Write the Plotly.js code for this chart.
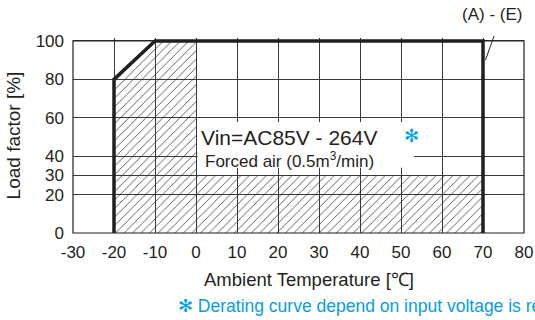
<!DOCTYPE html>
<html><head><meta charset="utf-8">
<script src="https://cdn.plot.ly/plotly-3.0.1.min.js"></script>
<style>html,body{margin:0;padding:0;background:#fff;overflow:hidden}</style>
</head><body><div id="chart" style="width:535px;height:320px"></div>
<script>
// Derating region (hatched area) and derating curve
const areaX = [-20, -20, -10, 0, 0, 70, 70, -20];
const areaY = [0, 80, 100, 100, 30, 30, 0, 0];
const curveX = [-20, -20, -10, 70, 70];
const curveY = [0, 80, 100, 100, 0];
const xTicks = [-30, -20, -10, 0, 10, 20, 30, 40, 50, 60, 70, 80];
const xTickText = ['-30', '-20', '-10', '0', '10', '20', '30', '40', '50', '60', '70', '80'];
const yTicks = [0, 20, 30, 40, 60, 80, 100];
const xTitle = 'Ambient Temperature [℃]';
const yTitle = 'Load factor [%]';
const condText = 'Vin=AC85V - 264V';
const airText = 'Forced air (0.5m<sup>3</sup>/min)';
const curveLabel = '(A) - (E)';
const noteText = '✻ Derating curve depend on input voltage is re';

const ink = '#231f20';
const blue = '#00a0e9';
const FONT = '"Liberation Sans", Arial, sans-serif';

const traces = [
  {x: areaX, y: areaY, type: 'scatter', mode: 'lines', fill: 'toself',
   line: {width: 0, color: ink}, fillcolor: 'rgba(0,0,0,0)',
   fillpattern: {shape: '/', size: 6, solidity: 0.13, fgcolor: '#333', fillmode: 'replace'},
   hoverinfo: 'skip', showlegend: false},
  {x: curveX, y: curveY, type: 'scatter', mode: 'lines',
   line: {width: 3.5, color: ink}, hoverinfo: 'skip', showlegend: false}
];

const layout = {
  width: 535, height: 320,
  margin: {l: 73, r: 11, t: 38, b: 87},
  paper_bgcolor: '#fff', plot_bgcolor: '#fff',
  font: {family: FONT, color: ink, size: 17},
  showlegend: false,
  xaxis: {range: [-30, 80], tickvals: xTicks, ticktext: xTickText, ticks: '', showline: false, zeroline: false,
          showgrid: true, gridcolor: '#3a3a3a', gridwidth: 1,
          tickfont: {size: 17, color: ink}, ticklabelstandoff: 7, fixedrange: true},
  yaxis: {range: [0, 101.5], tickvals: yTicks, ticks: '', showline: false, zeroline: false,
          showgrid: true, gridcolor: '#3a3a3a', gridwidth: 1,
          tickfont: {size: 17, color: ink}, ticklabelstandoff: 8, fixedrange: true,
          title: {text: yTitle, font: {size: 19, color: ink}, standoff: 9}},
  shapes: [
    {type: 'rect', xref: 'paper', yref: 'paper', x0: 0, x1: 1, y0: 0, y1: 100 / 101.5,
     line: {color: ink, width: 1.2}, fillcolor: 'rgba(0,0,0,0)', layer: 'above'},
    {type: 'rect', xref: 'x', yref: 'y', x0: 0.4, x1: 53.2, y0: 33.9, y1: 57.8,
     line: {width: 0}, fillcolor: '#fff', layer: 'above'}
  ],
  annotations: [
    {xref: 'x', yref: 'y', x: 0.8, y: 49.8, text: condText, showarrow: false,
     xanchor: 'left', yanchor: 'middle', font: {size: 21, color: ink}},
    {xref: 'x', yref: 'y', x: 52.6, y: 50.5, text: '✻', showarrow: false,
     xanchor: 'center', yanchor: 'middle', font: {size: 18, color: blue, family: 'DejaVu Sans'}},
    {xref: 'x', yref: 'y', x: 1.6, y: 38.0, text: airText, showarrow: false,
     xanchor: 'left', yanchor: 'middle', font: {size: 17, color: ink}},
    {xref: 'x', yref: 'y', x: 70.6, y: 90, text: ' ', showarrow: true, arrowhead: 0,
     arrowwidth: 1, arrowcolor: ink, ax: 12.5, ay: -35, standoff: 0},
    {xref: 'paper', yref: 'paper', x: 0.929, y: 1.118, text: curveLabel, showarrow: false,
     xanchor: 'center', yanchor: 'middle', font: {size: 17, color: ink}},
    {xref: 'paper', yref: 'paper', x: 0.524, y: -0.24, text: xTitle, showarrow: false,
     xanchor: 'center', yanchor: 'middle', font: {size: 18.5, color: ink}},
    {xref: 'paper', yref: 'paper', x: 0.228, y: -0.372, text: noteText, showarrow: false,
     xanchor: 'left', yanchor: 'middle', font: {size: 17.5, color: blue}}
  ]
};

Plotly.newPlot('chart', traces, layout, {staticPlot: true, displayModeBar: false});
</script>
</body></html>
